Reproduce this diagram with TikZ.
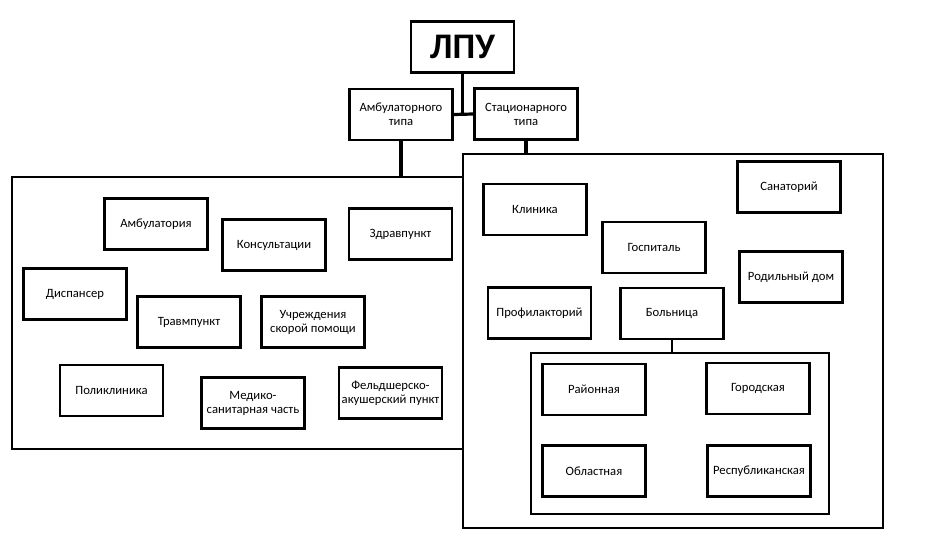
\documentclass[tikz,border=0pt]{standalone}
\usepackage{fontspec}
\setmainfont{Carlito}
\usepackage{tikz}

\begin{document}
\begin{tikzpicture}[x=0.75pt,y=-0.75pt,
  box/.style={draw,line width=1.9pt,minimum width=77pt,minimum height=38.5pt,inner sep=1pt,align=center,font=\fontsize{9.5}{10.5}\selectfont},
  frame/.style={draw,line width=1.9pt,inner sep=0pt},
  link/.style={line width=2.4pt}]

\useasboundingbox (0,0) rectangle (940,542);

% vertice
\node[box,minimum height=38pt,font=\fontsize{27}{28}\selectfont\bfseries] (lpu) at (462.5,47) {ЛПУ};
\node[box] (amb) at (401,114.5) {Амбулаторного\\типа};
\node[box] (stat) at (526,114) {Стационарного\\типа};

% contenitori
\node[frame,minimum width=338pt,minimum height=204pt] (ambbox) at (237.5,313) {};
\node[frame,minimum width=315pt,minimum height=280.5pt] (statbox) at (673,341) {};

% ambulatorio
\node[box] (ambul) at (156,224) {Амбулатория};
\node[box] (kons) at (274,245) {Консультации};
\node[box] (zdrav) at (400.5,234) {Здравпункт};
\node[box] (disp) at (75,294) {Диспансер};
\node[box] (travm) at (189,322) {Травмпункт};
\node[box] (skor) at (313,322) {Учреждения\\скорой помощи};
\node[box] (polik) at (111.5,390.5) {Поликлиника};
\node[box] (msch) at (253,403) {Медико-\\санитарная часть};
\node[box] (fap) at (390.5,393) {Фельдшерско-\\акушерский пункт};

% stazionario
\node[box] (klin) at (535,209.5) {Клиника};
\node[box] (sanat) at (789,187) {Санаторий};
\node[box] (gosp) at (654,247.5) {Госпиталь};
\node[box] (rodd) at (791,277) {Родильный дом};
\node[box] (profil) at (539.5,313) {Профилакторий};
\node[box] (boln) at (672,313.5) {Больница};

% ospedali
\node[frame,line width=1.5pt,minimum width=223.5pt,minimum height=120.75pt] (bolnbox) at (680,433.5) {};
\node[box] (rayon) at (594,389.5) {Районная};
\node[box] (gorod) at (758,388.5) {Городская};
\node[box] (oblast) at (594,471) {Областная};
\node[box] (resp) at (759,471) {Республиканская};

% linee
\draw[link] (lpu.south) -- (lpu.south |- amb.east);
\draw[link] (amb.east) -- (stat.west);
\draw[link] (amb.south) -- (amb.south |- ambbox.north);
\draw[link] (stat.south) -- (stat.south |- statbox.north);
\draw[link,line width=1.6pt] (boln.south) -- (boln.south |- bolnbox.north);

\end{tikzpicture}
\end{document}
